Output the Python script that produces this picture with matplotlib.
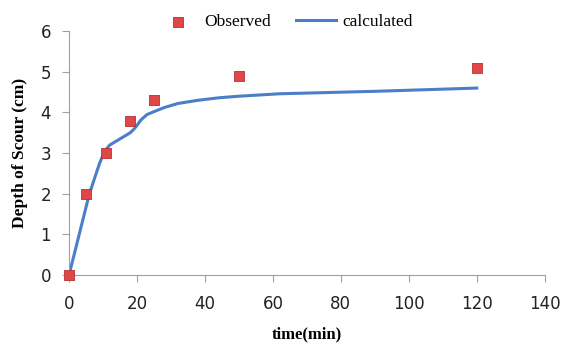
import numpy as np
import matplotlib
matplotlib.use("Agg")
import matplotlib.pyplot as plt

# observed scour depth
obs_time = [0, 5, 11, 18, 25, 50, 120]
obs_depth = [0, 2.0, 3.0, 3.8, 4.3, 4.9, 5.1]

# calculated curve
calc_time = [0, 3, 6, 9, 10, 11, 12, 14, 16, 18, 19, 20, 21, 22, 23, 25, 28, 32, 38, 44,
             50, 62, 90, 120]
calc_depth = [0, 1.0, 2.0, 2.75, 2.95, 3.1, 3.2, 3.3, 3.4, 3.5, 3.58, 3.68, 3.8, 3.88,
              3.95, 4.02, 4.12, 4.22, 4.3, 4.36, 4.4, 4.46, 4.52, 4.6]

fig = plt.figure(figsize=(5.61, 3.5), dpi=100)
ax = fig.add_axes([0.123, 0.214, 0.848, 0.697])

ax.plot(calc_time, calc_depth, color="#4a7ec8", lw=2.2, label="calculated", zorder=2)
ax.scatter(obs_time, obs_depth, marker="s", s=55, color="#e04848", edgecolor="#b83030",
           linewidth=0.6, label="Observed", zorder=3, clip_on=False)

ax.set_xlim(0, 140)
ax.set_ylim(0, 6)
ax.set_xticks(range(0, 141, 20))
ax.set_yticks(range(0, 7))

for s in ["top", "right"]:
    ax.spines[s].set_visible(False)
for s in ["left", "bottom"]:
    ax.spines[s].set_color("#a0a0a0")
ax.tick_params(axis="both", colors="#a0a0a0", labelcolor="#222222", labelsize=12, length=5)
ax.tick_params(axis="x", pad=9)
ax.tick_params(axis="y", pad=8)

ax.set_xlabel("time(min)", family="Liberation Serif", fontweight="bold", fontsize=12, labelpad=10)
ax.set_ylabel("Depth of Scour (cm)", family="Liberation Serif", fontweight="bold", fontsize=12.5, labelpad=9)

handles, labels = ax.get_legend_handles_labels()
leg = ax.legend(handles[::-1], labels[::-1], loc="lower center", bbox_to_anchor=(0.455, 0.975),
                ncol=2, frameon=False, prop={"family": "Liberation Serif", "size": 12.5},
                handlelength=2.3, columnspacing=1.4, handletextpad=0.4, borderaxespad=0.0)

fig.savefig("out.png", dpi=100)
